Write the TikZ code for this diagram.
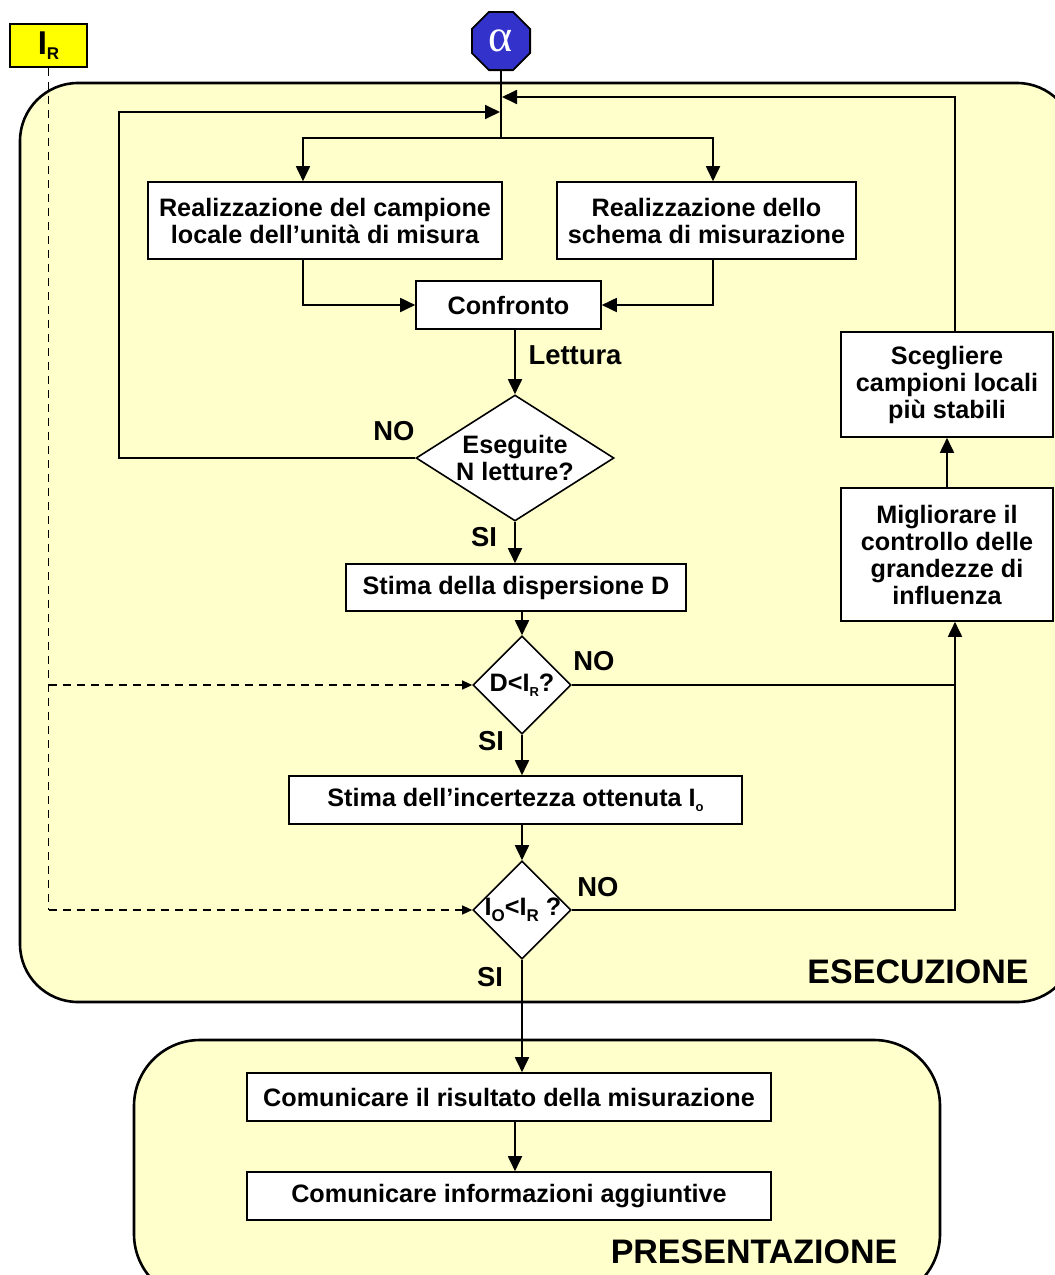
\documentclass[tikz,border=0pt]{standalone}
\usepackage{fontspec}
\setmainfont{Liberation Sans}
\newfontfamily\serifalfa{Liberation Serif}
\usetikzlibrary{calc,shapes.geometric,arrows.meta}
\definecolor{fondo}{HTML}{FFFFCC}
\definecolor{giallo}{HTML}{FFFF00}
\definecolor{blu}{HTML}{3333CC}
\newcommand{\ped}[1]{\raisebox{-0.35ex}{\fontsize{13}{13}\selectfont #1}}
\newcommand{\pedg}[1]{\raisebox{-0.45ex}{\fontsize{17}{17}\selectfont #1}}
\tikzset{
	arr/.style={-{Triangle[length=15pt,width=14pt]}},
	arrd/.style={dash pattern=on 8pt off 6pt,-{Triangle[length=10pt,width=9pt]}},
	box/.style={draw,fill=white,line width=1.6pt,align=center,inner sep=0pt},
	dec/.style={draw,fill=white,line width=1.6pt,diamond,inner sep=0pt},
	lab/.style={font=\bfseries\fontsize{27.4}{30}\selectfont},
	zone/.style={draw,fill=fondo,line width=2.6pt,rounded corners=58pt},
}
\begin{document}
\begin{tikzpicture}[x=1pt,y=-1pt,line width=1.8pt,
		every node/.style={font=\bfseries\fontsize{25.2}{27}\selectfont}]
			          \clip (0,0) rectangle (1055,1275);
			          %\draw[help lines,step=50] (0,0) grid (1055,1275);
			          \draw[zone] (20,83) rectangle (1075,1002);
			          \draw[zone,rounded corners=66pt] (134,1040) rectangle (940,1300);
			          % nodi
			          \node[box,fill=giallo,minimum width=77pt,minimum height=43pt] (ir) at (48.5,45.5) {\fontsize{33}{33}\selectfont I\raisebox{-0.3ex}{\fontsize{17}{17}\selectfont R}};
			          \node[draw,fill=blu,regular polygon,regular polygon sides=8,minimum size=63pt,inner sep=0pt,text=white] (alfa) at (501,41) {\serifalfa\mdseries\fontsize{46}{46}\selectfont α};
			          \node[box,minimum width=354pt,minimum height=77pt] (b1) at (325,220.5) {Realizzazione del campione\\locale dell’unità di misura};
			          \node[box,minimum width=299pt,minimum height=77pt] (b2) at (706.5,220.5) {Realizzazione dello\\schema di misurazione};
			          \node[box,minimum width=185pt,minimum height=48pt] (cf) at (508.5,305) {Confronto};
			          \node[dec,minimum width=198pt,minimum height=126pt] (es) at (515,458) {};
			          \node[align=center] (est) at (es) {Eseguite\\N letture?};
			          \node[box,minimum width=340pt,minimum height=47pt] (sd) at (516,587.5) {Stima della dispersione D};
			          \node[dec,minimum width=98pt,minimum height=98pt] (d1) at (522,685) {};
			          \node (d1t) at (d1) {D<I\ped{R}?};
			          \node[box,minimum width=453pt,minimum height=48pt] (si) at (515.5,800) {Stima dell’incertezza ottenuta I\ped{o}};
			          \node[dec,minimum width=98pt,minimum height=98pt] (d2) at (522,910) {};
			          \node (d2t) at (523,910) {I\pedg{O}<I\pedg{R} ?};
			          \node[box,minimum width=212pt,minimum height=105pt] (sc) at (947,384.5) {Scegliere\\campioni locali\\più stabili};
			          \node[box,minimum width=212pt,minimum height=133pt] (mg) at (947,554.5) {Migliorare il\\controllo delle\\grandezze di\\influenza};
			          \node[box,minimum width=524pt,minimum height=48pt] (c1) at (509,1097) {Comunicare il risultato della misurazione};
			          \node[box,minimum width=524pt,minimum height=48pt] (c2) at (509,1196) {Comunicare informazioni aggiuntive};
			          % punti di passaggio
			          \coordinate (j) at (501,138);
			          \coordinate (j1) at (500,112);
			          \coordinate (j2) at (502,97);
			          \coordinate (x1) at (303,0);
			          \coordinate (x2) at (713,0);
			          \coordinate (xl) at (119,0);
			          \coordinate (xr) at (955,0);
			          \coordinate (xc) at (515,0);
			          % collegamenti
			          \draw (alfa.south) -- (j);
			          \draw[arr] (j) -| (x1 |- b1.north);
			          \draw[arr] (j) -| (x2 |- b2.north);
			          \draw[arr] (x1 |- b1.south) |- (cf.west);
			          \draw[arr] (x2 |- b2.south) |- (cf.east);
			          \draw[arr] (es.north |- cf.south) -- (es.north);
			          \draw[arr] (es.west) -| (xl |- j1) -- (j1);
			          \draw[arr] (es.south) -- (es.south |- sd.north);
			          \draw[arr] (d1.north |- sd.south) -- (d1.north);
			          \draw[arr] (d1.south) -- (d1.south |- si.north);
			          \draw[arr] (d2.north |- si.south) -- (d2.north);
			          \draw (d1.east) -- (xr |- d1.east);
			          \draw[arr] (d2.east) -| (xr |- mg.south);
			          \draw[arr] (mg.north) -- (sc.south);
			          \draw[arr] (xr |- sc.north) |- (j2);
			          \draw[arr] (d2.south) -- (d2.south |- c1.north);
			          \draw[arr] (xc |- c1.south) -- (xc |- c2.north);
			          % linea tratteggiata da I_R
			          \draw[dash pattern=on 8pt off 6pt,line width=1.2pt] (ir.south) -- (ir.south |- d2.west);
			          \draw[arrd,line width=1.2pt] (ir.south |- d1.west) -- (d1.west);
			          \draw[arrd,line width=1.2pt] (ir.south |- d2.west) -- (d2.west);
			          % etichette
			          \node[lab] (no1) at (394,431) {NO};
			          \node[lab] (si1) at (484,537) {SI};
			          \node[lab] (let) at (575,355) {Lettura};
			          \node[lab] (no2) at (594,661) {NO};
			          \node[lab] (si2) at (491,741) {SI};
			          \node[lab] (no3) at (598,887) {NO};
			          \node[lab] (si3) at (490,977) {SI};
			          \node[font=\bfseries\fontsize{34}{34}\selectfont] (ese) at (918,972) {ESECUZIONE};
			          \node[font=\bfseries\fontsize{34}{34}\selectfont] (pre) at (754,1252) {PRESENTAZIONE};
				  \end{tikzpicture}
\end{document}
